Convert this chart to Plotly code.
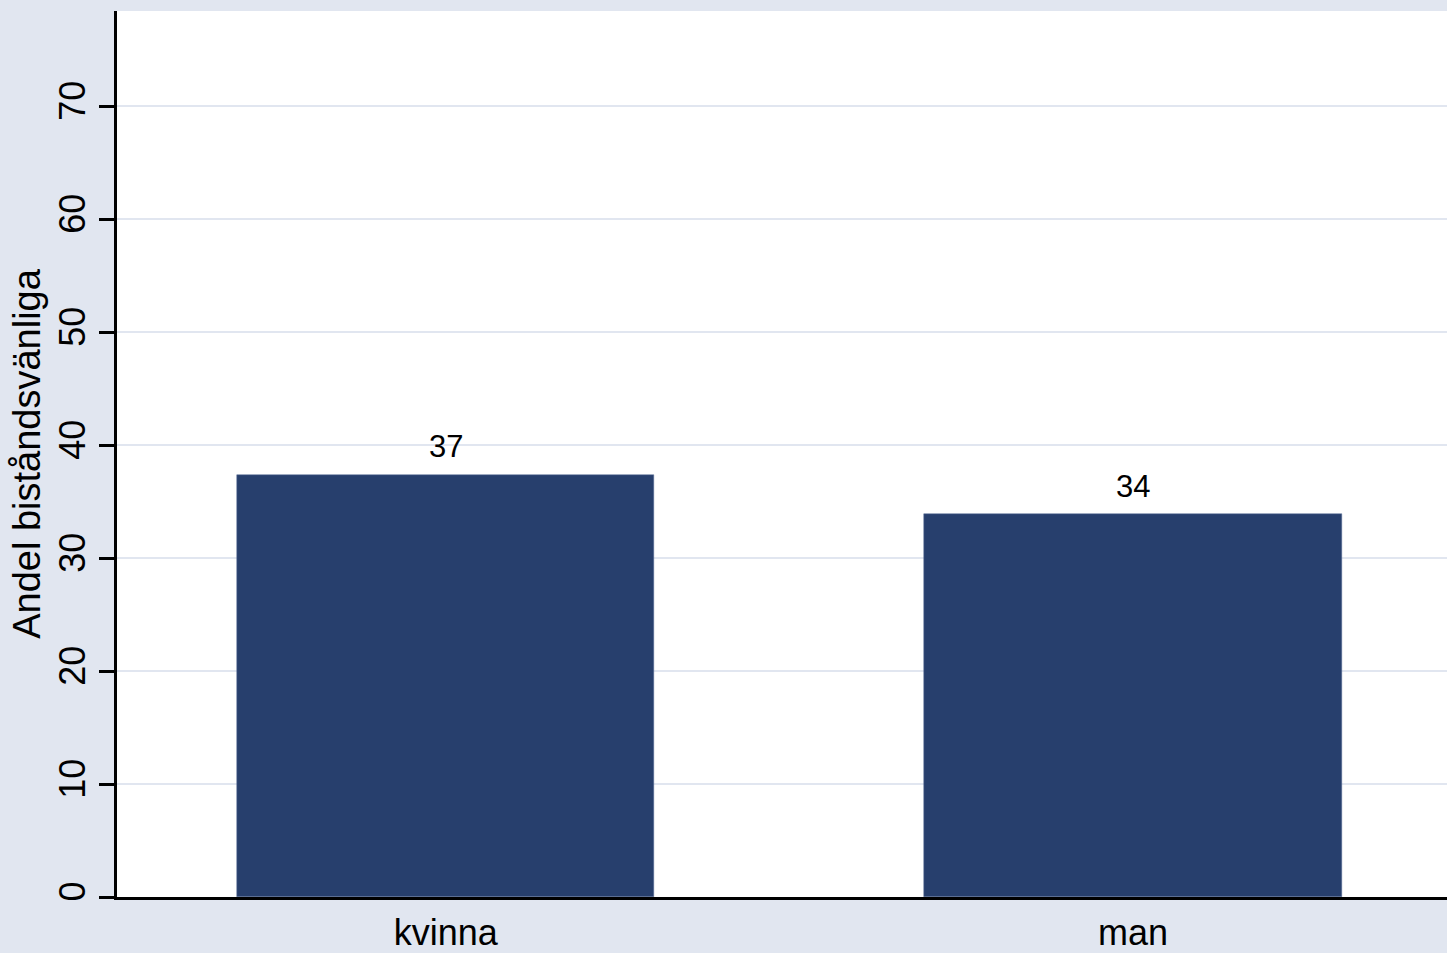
import plotly.graph_objects as go

categories = ["kvinna", "man"]
values = [37.4, 33.9]
y_ticks = [0, 10, 20, 30, 40, 50, 60, 70]
y_title = "Andel biståndsvänliga"

BG = "#E1E6F0"
BAR = "#273F6D"
FONT = "Liberation Sans, Arial, sans-serif"

fig = go.Figure()
fig.add_trace(go.Bar(
    x=[0, 1], y=values, width=0.607,
    marker=dict(color=BAR, line=dict(color="#5A6E96", width=0.5)),
    hoverinfo="skip", showlegend=False,
))

for i, v in enumerate(values):
    fig.add_annotation(
        x=i, y=v, xref="x", yref="y", text=f"{v:.0f}",
        showarrow=False, yanchor="middle", yshift=28,
        font=dict(family=FONT, size=31, color="black"),
    )

fig.update_layout(
    width=1447, height=953,
    margin=dict(l=117, r=0, t=11, b=52, pad=0),
    paper_bgcolor=BG, plot_bgcolor="white",
    font=dict(family=FONT, color="black"),
    bargap=0,
)

fig.update_xaxes(
    range=[-0.4783, 1.4568],
    tickmode="array", tickvals=[0, 1], ticktext=categories,
    tickfont=dict(size=36, family=FONT, color="black"),
    ticks="", showgrid=False, zeroline=False,
    showline=True, linecolor="black", linewidth=3,
    ticklabelstandoff=2,
)
fig.update_yaxes(
    range=[0, 78.43],
    tickmode="array", tickvals=y_ticks,
    tickangle=-90,
    tickfont=dict(size=36, family=FONT, color="black"),
    ticks="outside", ticklen=15, tickwidth=3, tickcolor="black",
    showgrid=True, gridcolor="#E1E6F0", gridwidth=2,
    zeroline=False,
    showline=True, linecolor="black", linewidth=3,
    title=dict(text=y_title, font=dict(size=38, family=FONT, color="black"), standoff=0),
)

fig.write_html(
    "out.html",
    config={"displayModeBar": False},
    post_script="document.body.style.margin='0';document.body.style.overflow='hidden';",
)
